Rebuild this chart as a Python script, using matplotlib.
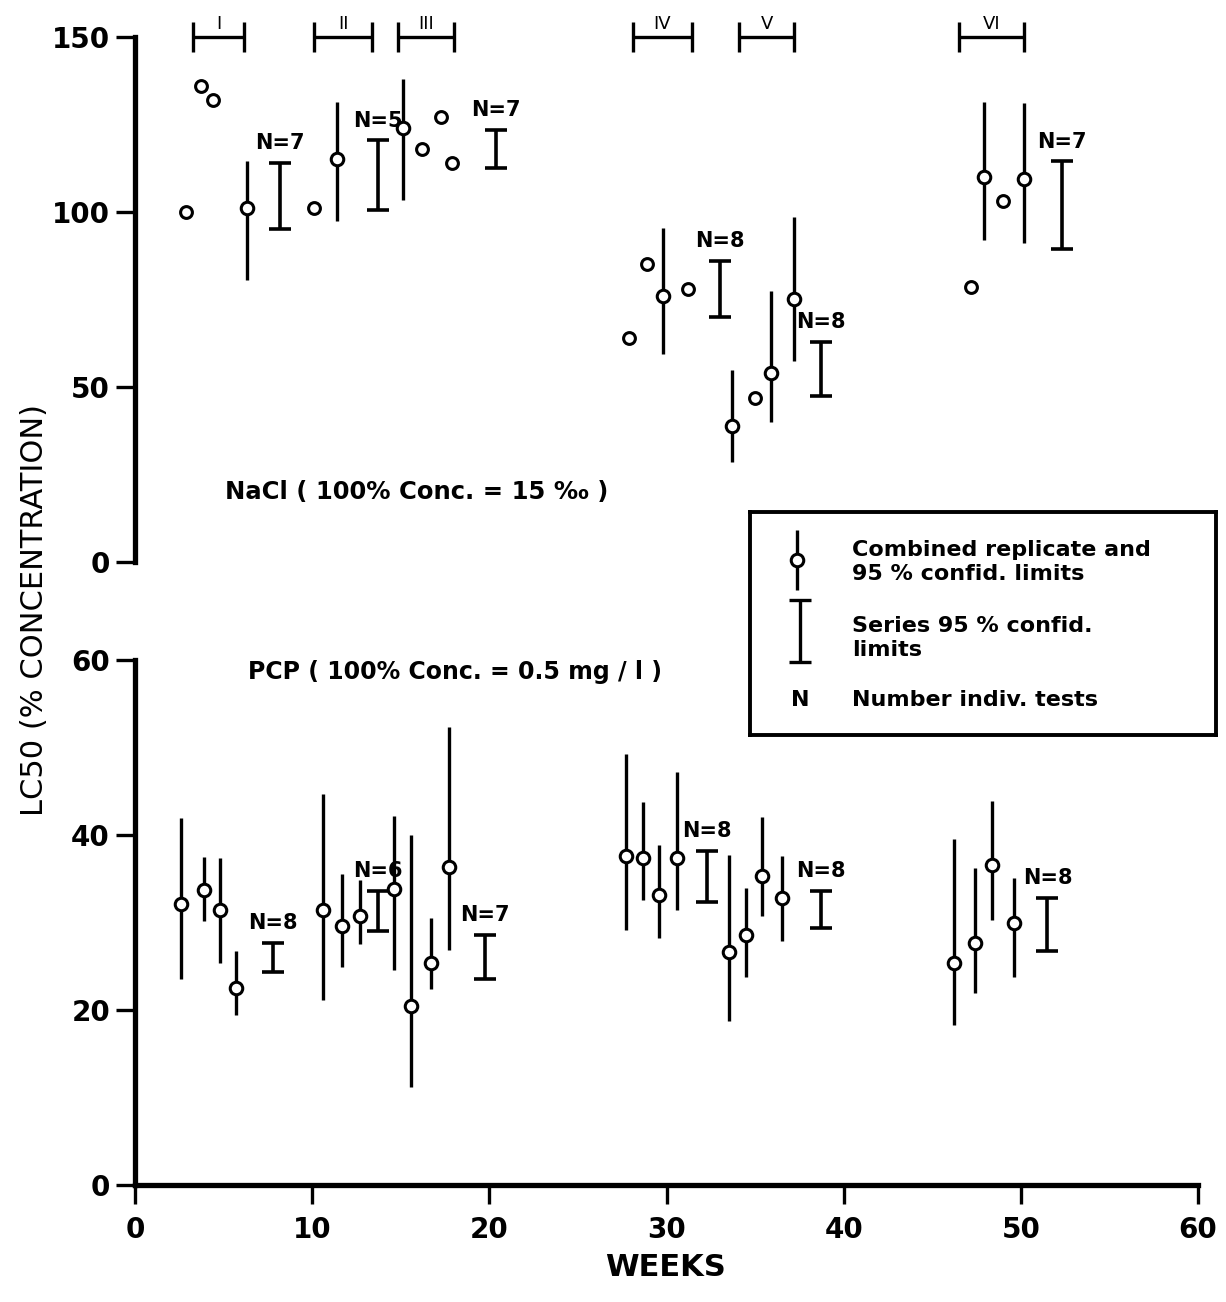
"""LC50 over time for NaCl and PCP reference toxicant tests."""

import matplotlib
matplotlib.use('Agg')
from matplotlib import pyplot as plt

# --- top panel: NaCl ---
nacl_single_x = [2.9, 3.7, 4.4, 10.1, 16.2, 17.3, 17.9, 27.9, 28.9, 31.2, 35.0, 47.2, 49.0]
nacl_single_y = [100, 136, 132, 101, 118, 127, 114, 64, 85, 78, 47, 78.5, 103]

nacl_comb_x = [6.3, 11.4, 15.1, 29.8, 33.7, 35.9, 37.2, 47.9, 50.2]
nacl_comb_y = [101, 115, 124, 76, 39, 54, 75, 110, 109.5]
nacl_comb_lo = [80.5, 97.5, 103.5, 59.5, 28.5, 40, 57.5, 92, 91]
nacl_comb_hi = [114.5, 131.5, 138, 95.5, 55, 77.5, 98.5, 131.5, 131]

nacl_series_x = [8.2, 13.7, 20.35, 33.0, 38.7, 52.3]
nacl_series_lo = [95, 100.5, 112.5, 70, 47.5, 89.5]
nacl_series_hi = [114, 120.5, 123.5, 86, 63, 114.5]
nacl_series_n = [7, 5, 7, 8, 8, 7]

# test periods marked on top
period_names = ['I', 'II', 'III', 'IV', 'V', 'VI']
period_start = [3.3, 10.1, 14.85, 28.1, 34.1, 46.5]
period_end = [6.15, 13.4, 18.0, 31.45, 37.2, 50.2]

# --- bottom panel: PCP ---
pcp_x = [2.6, 3.9, 4.8, 5.7, 10.6, 11.7, 12.7, 14.6, 15.6, 16.7, 17.7,
         27.7, 28.7, 29.6, 30.6, 33.5, 34.5, 35.4, 36.5, 46.2, 47.4, 48.4, 49.6]
pcp_y = [32.1, 33.7, 31.4, 22.5, 31.4, 29.6, 30.7, 33.8, 20.5, 25.4, 36.4,
         37.6, 37.4, 33.1, 37.4, 26.6, 28.6, 35.3, 32.8, 25.4, 27.7, 36.6, 29.9]
pcp_lo = [23.6, 30.2, 25.4, 19.4, 21.1, 24.9, 27.5, 24.6, 11.2, 22.4, 26.9,
          29.1, 32.6, 28.2, 31.4, 18.7, 23.8, 30.7, 27.9, 18.3, 22.0, 30.3, 23.8]
pcp_hi = [41.9, 37.5, 37.4, 26.7, 44.7, 35.6, 34.9, 42.2, 40.0, 30.5, 52.3,
          49.3, 43.8, 38.9, 47.2, 37.7, 34.0, 42.1, 37.6, 39.5, 36.2, 43.9, 35.1]

pcp_series_x = [7.8, 13.7, 19.75, 32.3, 38.7, 51.5]
pcp_series_lo = [24.3, 29.0, 23.5, 32.3, 29.4, 26.7]
pcp_series_hi = [27.7, 33.6, 28.6, 38.2, 33.6, 32.8]
pcp_series_n = [8, 6, 7, 8, 8, 8]

plt.rcParams['font.family'] = ['DejaVu Sans']
plt.rcParams['font.weight'] = 'bold'

W, H = 1226, 1302
fig = plt.figure(figsize=(W / 100, H / 100), dpi=100)

ax_top = fig.add_axes([135 / W, 1 - 562 / H, 1063 / W, 525 / H])
ax_bot = fig.add_axes([135 / W, 1 - 1185 / H, 1063 / W, 525 / H])

circle_style = dict(marker='o', linestyle='none', mfc='white', mec='black', mew=2.2, ms=8.5)


def draw_combined(ax, x, y, lo, hi):
    yerr = [[v - l for v, l in zip(y, lo)], [h - v for v, h in zip(y, hi)]]
    ax.errorbar(x, y, yerr=yerr, fmt='o', mfc='white', mec='black', mew=2.2, ms=9,
                ecolor='black', elinewidth=2.4, capsize=0, zorder=3)


def draw_series(ax, x, lo, hi, n):
    mid = [(a + b) / 2 for a, b in zip(lo, hi)]
    half = [(b - a) / 2 for a, b in zip(lo, hi)]
    ax.errorbar(x, mid, yerr=half, fmt='none', ecolor='black', elinewidth=2.6,
                capsize=8, capthick=2.6, zorder=3)
    for xi, top, ni in zip(x, hi, n):
        ax.annotate(f'N={ni}', (xi, top), xytext=(0, 7), textcoords='offset points',
                    ha='center', va='bottom', fontsize=15)


# top panel
ax_top.plot(nacl_single_x, nacl_single_y, **circle_style, zorder=3)
draw_combined(ax_top, nacl_comb_x, nacl_comb_y, nacl_comb_lo, nacl_comb_hi)
draw_series(ax_top, nacl_series_x, nacl_series_lo, nacl_series_hi, nacl_series_n)

centers = [(a + b) / 2 for a, b in zip(period_start, period_end)]
halves = [(b - a) / 2 for a, b in zip(period_start, period_end)]
brackets = ax_top.errorbar(centers, [150] * len(centers), xerr=halves, fmt='none',
                           ecolor='black', elinewidth=2.4, capsize=11, capthick=2.4)
for art in brackets.get_children():
    art.set_clip_on(False)
for c, name in zip(centers, period_names):
    ax_top.text(c, 151.2, name, ha='center', va='bottom', fontsize=13, fontweight='normal')

ax_top.text(5.1, 20, 'NaCl ( 100% Conc. = 15 \u2030 )', fontsize=17.5, va='center')

ax_top.set_xlim(0, 60)
ax_top.set_ylim(0, 150)
ax_top.set_yticks([0, 50, 100, 150])
ax_top.set_xticks([])
for side in ['top', 'right', 'bottom']:
    ax_top.spines[side].set_visible(False)

# bottom panel
draw_combined(ax_bot, pcp_x, pcp_y, pcp_lo, pcp_hi)
draw_series(ax_bot, pcp_series_x, pcp_series_lo, pcp_series_hi, pcp_series_n)
ax_bot.text(6.4, 58.6, 'PCP ( 100% Conc. = 0.5 mg / l )', fontsize=17, va='center')

ax_bot.set_xlim(0, 60)
ax_bot.set_ylim(0, 60)
ax_bot.set_yticks([0, 20, 40, 60])
ax_bot.set_xticks([0, 10, 20, 30, 40, 50, 60])
for side in ['top', 'right']:
    ax_bot.spines[side].set_visible(False)

for ax in (ax_top, ax_bot):
    ax.patch.set_alpha(0)
    for side in ['left', 'bottom']:
        ax.spines[side].set_linewidth(3.8)
    ax.tick_params(direction='out', length=14, width=2.4, labelsize=20)
    ax.tick_params(axis='y', pad=4)
    ax.tick_params(axis='x', pad=8)

fig.text(35 / W, 1 - 610 / H, 'LC50 (% CONCENTRATION)', rotation=90,
         ha='center', va='center', fontsize=22, fontweight='normal')
fig.text(665 / W, 1 - 1268 / H, 'WEEKS', ha='center', va='center', fontsize=22)

# legend box
lax = fig.add_axes([750 / W, 1 - 735 / H, 466 / W, 223 / H], zorder=5)
lax.set_xlim(0, 1)
lax.set_ylim(0, 1)
lax.set_xticks([])
lax.set_yticks([])
for s in lax.spines.values():
    s.set_linewidth(2.8)
lax.errorbar([0.1], [0.785], yerr=[[0.135], [0.135]], fmt='o', mfc='white', mec='black',
             mew=2.2, ms=9, ecolor='black', elinewidth=2.4, capsize=0)
lax.errorbar([0.107], [0.466], yerr=[0.139], fmt='none', ecolor='black', elinewidth=2.4,
             capsize=8, capthick=2.4)
lax.text(0.107, 0.157, 'N', ha='center', va='center', fontsize=16)
lax.text(0.219, 0.775, 'Combined replicate and\n95 % confid. limits', va='center',
         fontsize=16, linespacing=1.25)
lax.text(0.219, 0.433, 'Series 95 % confid.\nlimits', va='center', fontsize=16,
         linespacing=1.25)
lax.text(0.219, 0.157, 'Number indiv. tests', va='center', fontsize=16)

plt.savefig('out.png', dpi=100)
